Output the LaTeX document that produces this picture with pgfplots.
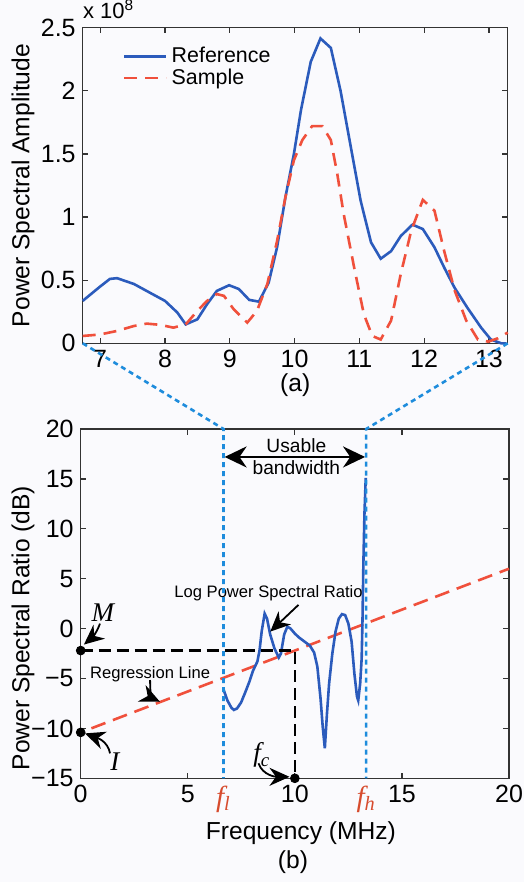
\documentclass[border=0pt]{standalone}
\usepackage{fontspec}
\setmainfont{Liberation Sans}
\newfontfamily\serifit{Liberation Serif}
\usepackage{pgfplots}
\pgfplotsset{compat=1.18}
\usetikzlibrary{arrows.meta}

\definecolor{refblue}{RGB}{43,91,188}
\definecolor{samred}{RGB}{240,80,60}
\definecolor{dotblue}{RGB}{30,140,220}
\definecolor{flred}{RGB}{215,75,45}
\definecolor{bgcol}{RGB}{250,250,253}

\begin{document}
\begin{tikzpicture}[font=\fontsize{12}{14}\selectfont,
  arr/.style={-{Stealth[length=10pt,width=9pt]}, line width=0.9pt, black},
  dotline/.style={dotblue, line width=1.3pt, dash pattern=on 2.5pt off 2pt},
  lab/.style={font=\fontsize{13.5}{13.5}\serifit\itshape}]
\useasboundingbox (0,0) rectangle (262pt,-441pt);
\fill[bgcol] (0,0) rectangle (262pt,-441pt);

\pgfplotsset{myax/.style={scale only axis,
  axis line style={black!80, line width=0.6pt},
  tick style={black!80, line width=0.6pt},
  major tick length=2.8pt,
  /pgf/number format/assume math mode=true,
  tick label style={font=\fontsize{12.5}{14}\selectfont},
  label style={font=\fontsize{12.3}{14}\selectfont}}}

\begin{axis}[myax, name=top, at={(41.35pt,-171.65pt)}, anchor=south west,
  width=212.5pt, height=157.8pt,
  xmin=6.73, xmax=13.29, ymin=0, ymax=2.5,
  xtick={7,8,9,10,11,12,13}, ytick={0,0.5,1,1.5,2,2.5},
  yticklabels={0,0.5,1,1.5,2,2.5},
  ylabel={Power Spectral Amplitude},
  ylabel style={at={(axis description cs:-0.1405,0.5)}, anchor=center},
  xlabel={(a)},
  xlabel style={at={(axis description cs:0.5,-0.132)}, anchor=center},
  clip=false,
  legend cell align=left,
  legend style={at={(0.08,0.965)}, anchor=north west, draw=none, fill=none,
    font=\fontsize{10.7}{12}\selectfont, row sep=-2.5pt},
  legend image code/.code={\draw[#1] (0pt,0pt) -- (21pt,0pt);}]
\addplot[refblue, line width=1.3pt] coordinates {
(6.73,0.336) (7.0,0.45) (7.15,0.51) (7.26,0.516) (7.52,0.47) (7.77,0.40)
(8.0,0.336) (8.19,0.244) (8.32,0.15) (8.5,0.19) (8.65,0.31) (8.8,0.415)
(8.99,0.46) (9.14,0.43) (9.3,0.344) (9.45,0.33) (9.6,0.48) (9.73,0.76)
(9.86,1.16) (9.99,1.50) (10.1,1.85) (10.25,2.23) (10.4,2.415) (10.56,2.34)
(10.71,2.0) (10.87,1.55) (11.02,1.13) (11.18,0.80) (11.33,0.67) (11.49,0.73)
(11.64,0.85) (11.82,0.94) (11.98,0.905) (12.16,0.76) (12.31,0.60) (12.47,0.44)
(12.67,0.28) (12.88,0.124) (13.03,0.03) (13.19,0.0) (13.27,0.0)};
\addlegendentry{Reference}
\addplot[samred, line width=1.3pt, dash pattern=on 6.5pt off 4pt] coordinates {
(6.73,0.058) (7.0,0.07) (7.26,0.098) (7.52,0.137) (7.72,0.156) (7.93,0.146)
(8.13,0.124) (8.32,0.15) (8.5,0.257) (8.65,0.336) (8.8,0.39) (8.91,0.376)
(9.06,0.27) (9.27,0.164) (9.42,0.257) (9.58,0.47) (9.73,0.81) (9.86,1.16)
(9.99,1.45) (10.12,1.61) (10.27,1.72) (10.43,1.72) (10.56,1.61) (10.66,1.34)
(10.76,1.02) (10.92,0.60) (11.07,0.23) (11.2,0.058) (11.33,0.03) (11.49,0.18)
(11.64,0.55) (11.8,0.89) (11.98,1.136) (12.16,1.05) (12.31,0.73) (12.47,0.42)
(12.65,0.18) (12.83,0.03) (12.99,0.013) (13.14,0.04) (13.29,0.085)};
\addlegendentry{Sample}
\node[anchor=base west, inner sep=0pt, font=\fontsize{11}{12}\selectfont]
  at ([yshift=4.6pt]rel axis cs:0,1) {x 10\textsuperscript{8}};
\end{axis}

\begin{axis}[myax, name=bot, at={(40.35pt,-389.15pt)}, anchor=south west,
  width=214.15pt, height=174.65pt,
  xmin=0, xmax=20, ymin=-15, ymax=20,
  xtick={0,5,10,15,20}, ytick={-15,-10,-5,0,5,10,15,20},
  yticklabels={−15,−10,−5,0,5,10,15,20},
  xlabel={Frequency (MHz)},
  xlabel style={at={(axis description cs:0.514,-0.1566)}, anchor=center},
  ylabel={Power Spectral Ratio (dB)},
  ylabel style={at={(axis description cs:-0.1347,0.430)}, anchor=center},
  clip=false]
% regression line
\addplot[samred, line width=1.3pt, dash pattern=on 7.5pt off 4pt] coordinates {(0.5,-9.99) (20,6.0)};
% log power spectral ratio
\addplot[refblue, line width=1.3pt] coordinates {
(6.67,-6.1) (6.85,-7.2) (7.03,-7.9) (7.15,-8.15) (7.3,-8.0) (7.49,-7.4)
(7.7,-6.3) (7.88,-5.3) (8.05,-4.2) (8.25,-3.3) (8.35,-2.2) (8.45,-0.3)
(8.59,1.5) (8.7,1.0) (8.85,-0.6) (9.05,-2.0) (9.25,-2.9) (9.35,-2.5)
(9.5,-0.6) (9.65,0.2) (9.8,0.0) (10.0,-0.5) (10.2,-0.9) (10.45,-1.3)
(10.7,-1.7) (10.9,-2.4) (11.05,-3.8) (11.2,-7.0) (11.3,-9.8) (11.4,-12.0)
(11.5,-8.5) (11.6,-5.5) (11.75,-2.5) (11.9,-0.3) (12.05,1.0) (12.2,1.45)
(12.35,1.35) (12.5,0.5) (12.65,-1.3) (12.78,-4.5) (12.9,-6.8) (12.96,-7.2)
(13.05,-5.5) (13.12,-3.0) (13.16,1.0) (13.2,6.5) (13.25,11.5) (13.31,15.1)};
% dashed construction lines
\addplot[black, line width=1.1pt, dash pattern=on 6pt off 3pt] coordinates {(0,-2.2) (10,-2.2) (10,-15)};
\addplot[only marks, mark=*, mark size=2.2pt, black] coordinates {(0,-2.2) (0,-10.4) (10,-15)};

\coordinate (flt) at (axis cs:6.67,20);
\coordinate (flb) at (axis cs:6.67,-15);
\coordinate (fht) at (axis cs:13.33,20);
\coordinate (fhb) at (axis cs:13.33,-15);

\draw[{Stealth[length=11pt,width=10.5pt]}-{Stealth[length=11pt,width=10.5pt]}, line width=1.3pt]
  (axis cs:6.72,17.2) -- (axis cs:13.28,17.2);
\node[align=center, font=\fontsize{9.6}{11}\selectfont] at (axis cs:10.07,17.2) {Usable\\bandwidth};

\node[font=\fontsize{8.3}{9}\selectfont] at (axis cs:8.77,3.55) {Log Power Spectral Ratio};
\draw[arr] (axis cs:10.17,2.38) -- (axis cs:8.85,-0.3);

\node[font=\fontsize{8.3}{9}\selectfont] at (axis cs:3.24,-4.54) {Regression Line};
\draw[arr] (axis cs:3.24,-5.15) to[out=-90, in=155] (axis cs:3.7,-7.33);

\node[lab] at (axis cs:1.04,1.56) {M};
\draw[arr] (axis cs:0.9,0.5) to[out=-110, in=40] (axis cs:0.15,-1.6);

\node[lab] at (axis cs:1.6,-13.3) {I};
\draw[arr] (axis cs:1.37,-12.5) to[out=100, in=-20] (axis cs:0.2,-10.5);

\node[lab] at (axis cs:8.46,-12.67) {f\textsubscript{c}};
\draw[arr] (axis cs:8.3,-13.5) to[out=-70, in=180] (axis cs:9.75,-14.85);

\node[lab, text=flred, font=\fontsize{14.5}{14.5}\serifit\itshape] at ([yshift=-10.5pt]axis cs:6.67,-15) {f\textsubscript{l}};
\node[lab, text=flred, font=\fontsize{14.5}{14.5}\serifit\itshape] at ([yshift=-10.5pt]axis cs:13.33,-15) {f\textsubscript{h}};

\node[font=\fontsize{12.3}{14}\selectfont] at (axis description cs:0.4957,-0.2396) {(b)};
\end{axis}

\draw[dotline] (top.south west) -- (flt) -- (flb);
\draw[dotline] (top.south east) -- (fht) -- (fhb);
\end{tikzpicture}
\end{document}
